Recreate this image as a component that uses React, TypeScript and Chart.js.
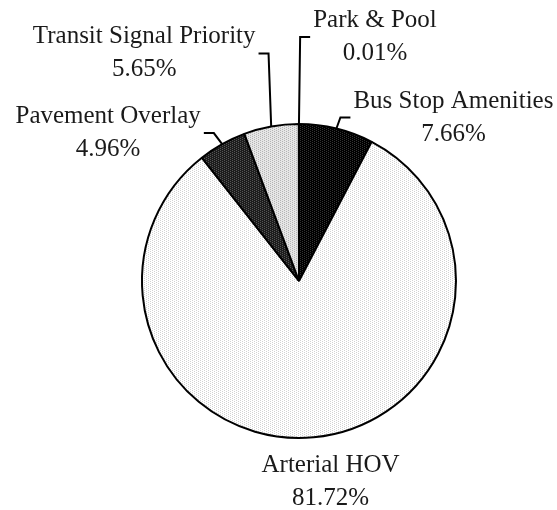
import React, { useEffect, useRef } from 'react';
import { Chart, registerables } from 'chart.js';

Chart.register(...registerables);

// ---- data ----
const categories = ['Bus Stop Amenities', 'Arterial HOV', 'Pavement Overlay', 'Transit Signal Priority', 'Park & Pool'];
const shares = [7.66, 81.72, 4.96, 5.65, 0.01];
const percentLabels = shares.map((v) => v.toFixed(2) + '%');

// ---- layout / style (not data) ----
const labelNudges: [number, number][] = [
  [117, -21],
  [17, 35],
  [-114, -21],
  [-127, -83],
  [76, -97],
];
const showLeader = [true, false, true, true, true];
const sliceStyles: [string, string][] = [
  ['#000000', '#333333'],
  ['#ffffff', '#d2d2d2'],
  ['#1c1c1c', '#555555'],
  ['#e6e6e6', '#b4b4b4'],
  ['#888888', '#888888'],
];
const FONT = '25px "Liberation Serif", "Times New Roman", serif';
const LINE_GAP = 33;

function makePattern(bg: string, dot: string): CanvasPattern | string {
  const c = document.createElement('canvas');
  c.width = 4;
  c.height = 2;
  const g = c.getContext('2d');
  if (!g) return bg;
  g.fillStyle = bg;
  g.fillRect(0, 0, 4, 2);
  g.fillStyle = dot;
  g.fillRect(0, 0, 1, 1);
  g.fillRect(2, 1, 1, 1);
  const p = g.createPattern(c, 'repeat');
  return p || bg;
}

const labelPlugin = {
  id: 'outsideLabels',
  afterDatasetsDraw(chart: any) {
    const ctx: CanvasRenderingContext2D = chart.ctx;
    const meta = chart.getDatasetMeta(0);
    ctx.save();
    ctx.font = FONT;
    ctx.fillStyle = '#1a1a1a';
    ctx.strokeStyle = '#000000';
    ctx.lineWidth = 2;
    ctx.textAlign = 'center';
    ctx.textBaseline = 'alphabetic';
    meta.data.forEach((arc: any, i: number) => {
      const { x, y, startAngle, endAngle, outerRadius } = arc.getProps(
        ['x', 'y', 'startAngle', 'endAngle', 'outerRadius'],
        true
      );
      const mid = (startAngle + endAngle) / 2;
      const px = x + Math.cos(mid) * outerRadius;
      const py = y + Math.sin(mid) * outerRadius;
      const lx = px + labelNudges[i][0];
      const by = py + labelNudges[i][1];
      ctx.fillText(categories[i], lx, by);
      ctx.fillText(percentLabels[i], lx, by + LINE_GAP);
      if (showLeader[i]) {
        const w = Math.max(ctx.measureText(categories[i]).width, ctx.measureText(percentLabels[i]).width);
        const hy = by + 10;
        let elbowX: number, endX: number;
        if (lx > px) {
          const edge = lx - w / 2;
          elbowX = edge - 13;
          endX = edge - 3;
        } else {
          const edge = lx + w / 2;
          elbowX = edge + 13;
          endX = edge + 3;
        }
        ctx.beginPath();
        ctx.moveTo(px, py);
        ctx.lineTo(elbowX, hy);
        ctx.lineTo(endX, hy);
        ctx.stroke();
      }
    });
    ctx.restore();
  },
};

export default function App() {
  const canvasRef = useRef<HTMLCanvasElement | null>(null);

  useEffect(() => {
    if (!canvasRef.current) return;
    const bgs = sliceStyles.map(([bg, dot]) => makePattern(bg, dot));
    const chart = new Chart(canvasRef.current, {
      type: 'pie',
      data: {
        labels: categories,
        datasets: [
          {
            data: shares,
            backgroundColor: bgs as any,
            borderColor: '#000000',
            borderWidth: 2,
          },
        ],
      },
      options: {
        responsive: false,
        animation: false,
        rotation: 0,
        layout: {
          padding: { left: 141, right: 100, top: 123, bottom: 71 },
        },
        plugins: {
          legend: { display: false },
          tooltip: { enabled: false },
        },
      },
      plugins: [labelPlugin],
    });
    return () => chart.destroy();
  }, []);

  return (
    <div style={{ position: 'fixed', left: 0, top: 0, width: 557, height: 510, background: '#ffffff' }}>
      <canvas ref={canvasRef} width={557} height={510} style={{ display: 'block' }} />
    </div>
  );
}
